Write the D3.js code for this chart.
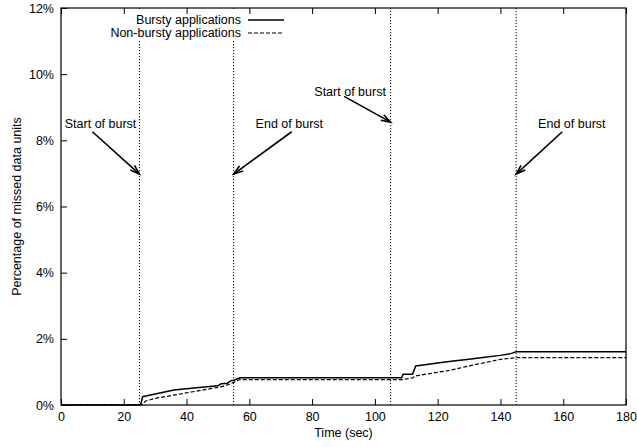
<!DOCTYPE html>
<html>
<head>
<meta charset="utf-8">
<script src="https://cdn.jsdelivr.net/npm/d3@7"></script>
<style>
  body { margin: 0; background: #fff; }
  text { font-family: "Liberation Sans", Arial, sans-serif; font-size: 12.5px; fill: #000; }
</style>
</head>
<body>
<div id="chart"></div>
<script>
// time (sec), percentage of missed data units
var burstyTime = [0, 25, 25.5, 26, 30, 36, 44, 50, 51, 53, 54, 55, 57, 108.5, 109, 112, 113, 116, 120, 125, 130, 135, 140, 143.5, 145, 180];
var burstyPct  = [0, 0, 0.05, 0.25, 0.33, 0.45, 0.53, 0.58, 0.64, 0.66, 0.73, 0.75, 0.82, 0.82, 0.93, 0.93, 1.18, 1.22, 1.27, 1.33, 1.38, 1.44, 1.5, 1.56, 1.61, 1.61];

var nonBurstyTime = [0, 25.5, 27, 30, 36, 42, 48, 51, 54, 57, 109, 112, 113, 118, 124, 130, 135, 140, 145, 180];
var nonBurstyPct  = [0, 0, 0.12, 0.2, 0.3, 0.4, 0.5, 0.55, 0.64, 0.77, 0.77, 0.82, 0.88, 0.96, 1.05, 1.18, 1.28, 1.38, 1.43, 1.43];

var seriesNames = ['Bursty applications', 'Non-bursty applications'];

// burst boundaries
var markerTimes = [25, 55, 105, 145];

// annotations: label, label anchor, arrow from -> to (data coords)
var noteLabels  = ['Start of burst', 'End of burst', 'Start of burst', 'End of burst'];
var noteTextPos = [[24, 8.5], [62, 8.5], [103.5, 9.47], [152, 8.5]];
var noteAnchor  = ['end', 'start', 'end', 'start'];
var arrowFrom   = [[10, 8.26], [73.5, 8.26], [90.2, 9.33], [159.7, 8.26]];
var arrowTo     = [[25, 6.98], [55, 6.98], [105, 8.55], [145, 6.98]];

var xTicks = [0, 20, 40, 60, 80, 100, 120, 140, 160, 180];
var yTicks = [0, 2, 4, 6, 8, 10, 12];

var W = 637, H = 447;
// plot box in pixels (don't call these top/left: window.top is read-only)
var plotL = 61, plotR = 626, plotT = 8, plotB = 405;

var x = d3.scaleLinear().domain([0, 180]).range([plotL, plotR]);
var y = d3.scaleLinear().domain([0, 12]).range([plotB, plotT]);

var svg = d3.select('#chart').append('svg')
  .attr('width', W)
  .attr('height', H);

// ticks (inside) - x on bottom and top, y on left only
var xAxisB = d3.axisBottom(x).tickValues(xTicks).tickSizeInner(-6).tickSizeOuter(0).tickPadding(8);
var xAxisT = d3.axisTop(x).tickValues(xTicks).tickSizeInner(-6).tickSizeOuter(0).tickFormat('');
var yAxisL = d3.axisLeft(y).tickValues(yTicks).tickSizeInner(-6).tickSizeOuter(0).tickPadding(8)
  .tickFormat(function(d){ return d + '%'; });

// burst boundaries (drawn first so the legend box can cover them)
svg.selectAll('line.marker').data(markerTimes)
  .enter().append('line')
  .attr('class', 'marker')
  .attr('x1', function(d){ return x(d); })
  .attr('x2', function(d){ return x(d); })
  .attr('y1', plotT).attr('y2', plotB)
  .attr('stroke', '#000').attr('stroke-width', 1)
  .attr('stroke-dasharray', '1.2,1.8');

// legend background
svg.append('rect')
  .attr('x', 100).attr('y', plotT + 1)
  .attr('width', 190).attr('height', 32)
  .attr('fill', '#fff');

var gxb = svg.append('g').attr('transform', 'translate(0,' + plotB + ')').call(xAxisB);
var gxt = svg.append('g').attr('transform', 'translate(0,' + plotT + ')').call(xAxisT);
var gyl = svg.append('g').attr('transform', 'translate(' + plotL + ',0)').call(yAxisL);

[gxb, gxt, gyl].forEach(function(g){
  g.select('.domain').remove();
  g.selectAll('line').attr('stroke', '#000');
  g.selectAll('text').attr('font-family', '"Liberation Sans", Arial, sans-serif').attr('font-size', '12.5px').attr('fill', '#000');
});
gxb.selectAll('text').attr('dy', '0.71em').attr('y', 7);
gyl.selectAll('text').attr('x', -7);

// frame
svg.append('rect')
  .attr('x', plotL).attr('y', plotT)
  .attr('width', plotR - plotL).attr('height', plotB - plotT)
  .attr('fill', 'none').attr('stroke', '#000').attr('stroke-width', 1.2);

// axis titles
svg.append('text')
  .attr('x', (plotL + plotR) / 2).attr('y', 437)
  .attr('text-anchor', 'middle')
  .text('Time (sec)');

svg.append('text')
  .attr('transform', 'translate(21,' + ((plotT + plotB) / 2) + ') rotate(-90)')
  .attr('text-anchor', 'middle')
  .text('Percentage of missed data units');

// series
var line = d3.line()
  .x(function(d){ return x(d[0]); })
  .y(function(d){ return y(d[1]); });

var bursty = burstyTime.map(function(t, i){ return [t, burstyPct[i]]; });
var nonBursty = nonBurstyTime.map(function(t, i){ return [t, nonBurstyPct[i]]; });

svg.append('path').datum(nonBursty)
  .attr('d', line)
  .attr('fill', 'none').attr('stroke', '#000').attr('stroke-width', 1.2)
  .attr('stroke-dasharray', '4,2');

svg.append('path').datum(bursty)
  .attr('d', line)
  .attr('fill', 'none').attr('stroke', '#000').attr('stroke-width', 1.5);

// legend
var legendY = [20, 33];
var legendDash = [null, '4,2'];
seriesNames.forEach(function(name, i){
  svg.append('text')
    .attr('x', 241).attr('y', legendY[i])
    .attr('dy', '0.35em')
    .attr('text-anchor', 'end')
    .text(name);
  svg.append('line')
    .attr('x1', 248).attr('x2', 284)
    .attr('y1', legendY[i]).attr('y2', legendY[i])
    .attr('stroke', '#000').attr('stroke-width', i === 0 ? 1.5 : 1.2)
    .attr('stroke-dasharray', legendDash[i]);
});

// annotations
noteLabels.forEach(function(label, i){
  svg.append('text')
    .attr('x', x(noteTextPos[i][0])).attr('y', y(noteTextPos[i][1]))
    .attr('dy', '0.35em')
    .attr('text-anchor', noteAnchor[i])
    .text(label);

  var x0 = x(arrowFrom[i][0]), y0 = y(arrowFrom[i][1]);
  var x1 = x(arrowTo[i][0]), y1 = y(arrowTo[i][1]);
  var ang = Math.atan2(y1 - y0, x1 - x0);
  var hl = 10, ha = Math.PI / 10;
  var p1 = [x1 - hl * Math.cos(ang - ha), y1 - hl * Math.sin(ang - ha)];
  var p2 = [x1 - hl * Math.cos(ang + ha), y1 - hl * Math.sin(ang + ha)];

  svg.append('line')
    .attr('x1', x0).attr('y1', y0).attr('x2', x1).attr('y2', y1)
    .attr('stroke', '#000').attr('stroke-width', 1.6);
  svg.append('path')
    .attr('d', 'M' + p1 + 'L' + x1 + ',' + y1 + 'L' + p2)
    .attr('fill', 'none').attr('stroke', '#000').attr('stroke-width', 1.6);
});
</script>
</body>
</html>
